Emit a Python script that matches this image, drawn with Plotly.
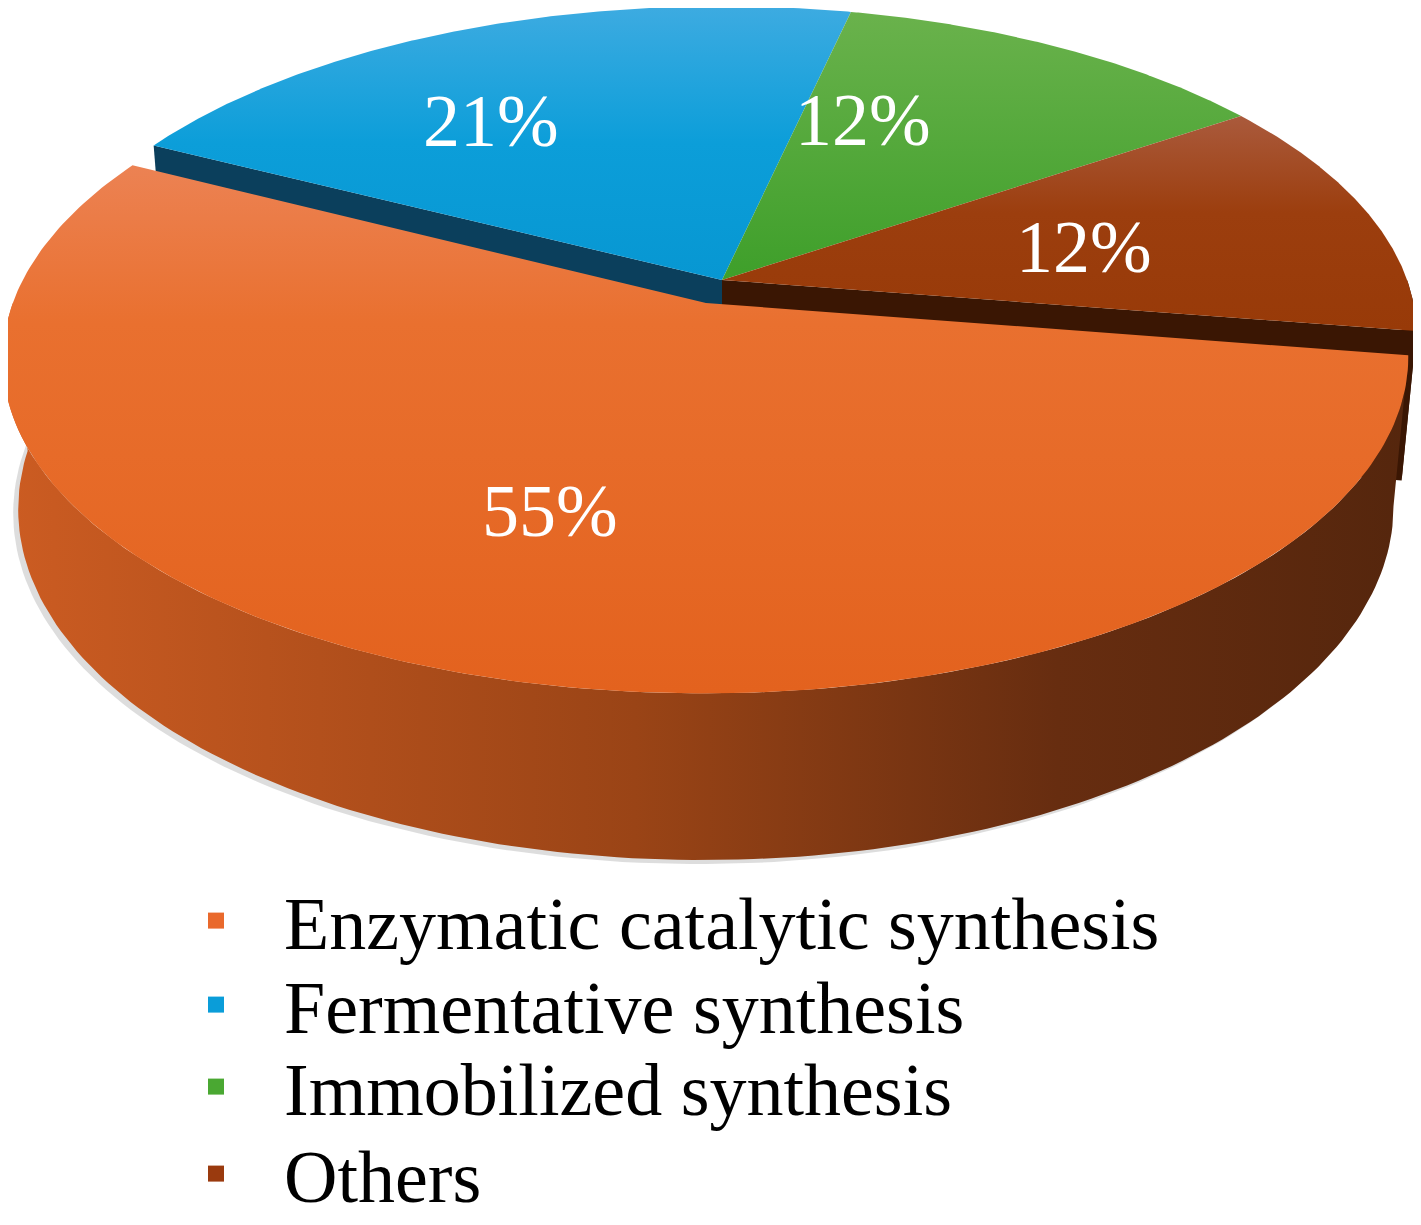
import numpy as np
import plotly.graph_objects as go

# --- data ---
labels = ["Enzymatic catalytic synthesis", "Fermentative synthesis",
          "Immobilized synthesis", "Others"]
values = [55, 21, 12, 12]
pull = [0.075, 0.0, 0.0, 0.0]

# --- styling ---
# top-face gradients, listed top of screen -> bottom of screen
TOP_COLORS = [
    [[0, "#EC8253"], [0.3, "#E9702F"], [1, "#E3621E"]],
    [[0, "#3DABE1"], [0.5, "#0C9ED9"], [1, "#0797D2"]],
    [[0, "#6AB24C"], [1, "#3E9F2A"]],
    [[0, "#AA5A3C"], [0.45, "#9C3E0E"], [1, "#983A08"]],
]
SIDE_COLORS = [
    [[0, "#CC5C22"], [0.45, "#9A4416"], [0.75, "#672D10"], [1, "#55260D"]],
    [[0, "#0B4463"], [1, "#083650"]],
    [[0, "#2E7A20"], [1, "#1F5A15"]],
    [[0, "#4A1D06"], [1, "#341202"]],
]
FACE_COLORS = ["#7A3512", "#0B3F5C", "#1F5A15", "#3A1603"]
LEGEND_COLORS = ["#E9692C", "#0A9DD9", "#4AA832", "#9A3A0E"]
LEGEND_X_PX = 148
LEGEND_Y_PX = [921, 1005, 1087, 1174]
LABEL_NUDGE = [(-12, 3), (-70, 0), (-73, -14), (-31, 8)]  # px
FONT = "Liberation Serif"

# page geometry: the html body has an 8px margin, so the axes are set up in
# page pixels (data unit == screen pixel)
W, H = 1421, 1225
OFF = 8
CX, CY = 722, 280
ELEV = np.radians(27.7)
DIST = 5.43
FOCAL = 3720
DEPTH = 0.247
START = -9.0  # degrees, slices run clockwise from here


def proj(X, Y, Z):
    X, Y, Z = np.asarray(X, float), np.asarray(Y, float), np.asarray(Z, float)
    up = Z * np.cos(ELEV) + Y * np.sin(ELEV)
    d = Y * np.cos(ELEV) - Z * np.sin(ELEV) + DIST
    return CX + X * FOCAL / d, CY - up * FOCAL / d


CAM = np.array([0.0, -DIST * np.cos(ELEV), DIST * np.sin(ELEV)])

total = float(sum(values))
cum = np.concatenate([[0], np.cumsum(values)])
slices = []
for i, v in enumerate(values):
    a0 = START - 360 * cum[i] / total       # ccw end
    a1 = START - 360 * cum[i + 1] / total   # cw end
    mid = np.radians((a0 + a1) / 2)
    ox, oy = pull[i] * np.cos(mid), pull[i] * np.sin(mid)
    slices.append(dict(i=i, a0=a0, a1=a1, mid=mid, ox=ox, oy=oy))

fig = go.Figure()


def poly(xs, ys, colorscale=None, gtype=None, color=None):
    kw = dict(fillcolor=color) if color else dict(
        fillgradient=dict(type=gtype, colorscale=colorscale))
    fig.add_trace(go.Scatter(
        x=list(xs) + [xs[0]], y=list(ys) + [ys[0]],
        mode="lines", fill="toself", line=dict(width=0),
        hoverinfo="skip", showlegend=False, **kw,
    ))


def flip(scale):
    # y axis runs downwards, so the vertical gradient has to be flipped
    return [[1 - p, c] for p, c in reversed(scale)]


def draw_side(s):
    # outer curved wall, only the front half can show
    for k in (-2, -1, 0, 1):
        lo, hi = max(s["a1"], -180 + 360 * k), min(s["a0"], 360 * k)
        if hi <= lo:
            continue
        th = np.radians(np.linspace(lo, hi, 160))
        xt, yt = proj(s["ox"] + np.cos(th), s["oy"] + np.sin(th), 0 * th)
        xb, yb = proj(s["ox"] + np.cos(th), s["oy"] + np.sin(th), 0 * th - DEPTH)
        poly(np.concatenate([xt, xb[::-1]]), np.concatenate([yt, yb[::-1]]),
             SIDE_COLORS[s["i"]], "horizontal")


def draw_faces(s):
    n = len(values)
    for edge, sign, nb in ((s["a0"], 1, (s["i"] - 1) % n), (s["a1"], -1, (s["i"] + 1) % n)):
        if pull[s["i"]] == 0 and pull[nb] == 0:
            continue
        phi = np.radians(edge)
        normal = np.array([np.cos(phi + sign * np.pi / 2), np.sin(phi + sign * np.pi / 2), 0])
        p = np.array([s["ox"] + 0.5 * np.cos(phi), s["oy"] + 0.5 * np.sin(phi), -DEPTH / 2])
        if normal @ (CAM - p) <= 0:
            continue
        X = [s["ox"], s["ox"] + np.cos(phi), s["ox"] + np.cos(phi), s["ox"]]
        Y = [s["oy"], s["oy"] + np.sin(phi), s["oy"] + np.sin(phi), s["oy"]]
        Z = [0, 0, -DEPTH, -DEPTH]
        xs, ys = proj(X, Y, Z)
        poly(xs, ys, color=FACE_COLORS[s["i"]])


def draw_top(s):
    th = np.radians(np.linspace(s["a1"], s["a0"], 240))
    X = np.concatenate([[s["ox"]], s["ox"] + np.cos(th)])
    Y = np.concatenate([[s["oy"]], s["oy"] + np.sin(th)])
    xs, ys = proj(X, Y, 0 * X)
    poly(xs, ys, flip(TOP_COLORS[s["i"]]), "vertical")


back = [s for s in slices if pull[s["i"]] == 0]
front = [s for s in slices if pull[s["i"]] > 0]

# soft shadow under the pulled slice
for s in front:
    th = np.radians(np.linspace(-185, 5, 160))
    xb, yb = proj(s["ox"] + np.cos(th), s["oy"] + np.sin(th), 0 * th - DEPTH)
    xt, yt = proj(s["ox"] + 0.9 * np.cos(th), s["oy"] + 0.9 * np.sin(th), 0 * th - DEPTH)
    fig.add_trace(go.Scatter(
        x=list(xb - 5) + list(xt[::-1]), y=list(yb + 4) + list(yt[::-1]),
        mode="lines", fill="toself", line=dict(width=0),
        fillcolor="rgba(120,120,120,0.25)", hoverinfo="skip", showlegend=False))

for group in (back, front):
    for s in group:
        draw_side(s)
        draw_faces(s)
    for s in group:
        draw_top(s)

# percentage labels
for s in slices:
    r = 0.6
    lx, ly = proj(s["ox"] + r * np.cos(s["mid"]), s["oy"] + r * np.sin(s["mid"]), 0)
    dx, dy = LABEL_NUDGE[s["i"]]
    fig.add_annotation(
        x=float(lx) + dx, y=float(ly) + dy,
        text=f"{values[s['i']] / total * 100:.0f}%",
        showarrow=False, font=dict(family=FONT, size=74, color="white"),
    )

# legend: one small legend per entry so the row spacing can follow the figure
legend_layout = {}
for k, (lab, c) in enumerate(zip(labels, LEGEND_COLORS)):
    key = "legend" if k == 0 else f"legend{k + 1}"
    fig.add_trace(go.Scatter(
        x=[None], y=[None], mode="markers", name=lab, legend=key,
        marker=dict(symbol="square", size=16, color=c),
    ))
    legend_layout[key] = dict(
        x=(LEGEND_X_PX - OFF) / W, y=1 - (LEGEND_Y_PX[k] - OFF) / H,
        xanchor="left", yanchor="middle",
        font=dict(family=FONT, size=74, color="black"),
        bgcolor="rgba(0,0,0,0)", itemwidth=126,
    )

fig.update_layout(
    width=W, height=H,
    margin=dict(l=0, r=0, t=0, b=0),
    paper_bgcolor="white", plot_bgcolor="white",
    xaxis=dict(range=[OFF, W + OFF], visible=False, fixedrange=True),
    yaxis=dict(range=[H + OFF, OFF], visible=False, fixedrange=True),
    showlegend=True,
    **legend_layout,
)

fig.write_html("out.html")
